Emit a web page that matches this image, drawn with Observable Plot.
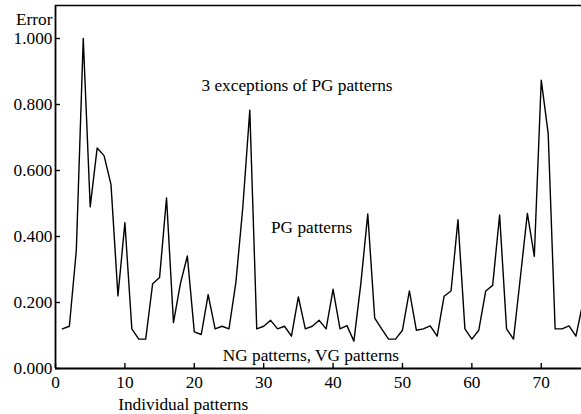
<!DOCTYPE html>
<html>
<head>
<meta charset="utf-8">
<script src="https://cdn.jsdelivr.net/npm/d3@7"></script>
<script src="https://cdn.jsdelivr.net/npm/@observablehq/plot@0.6"></script>
<style>
  html, body { margin: 0; padding: 0; background: #fff; }
  #chart { width: 581px; height: 414px; overflow: hidden; }
</style>
</head>
<body>
<div id="chart"></div>
<script>
const patterns = d3.range(1, 77);
const errors = [
  0.12, 0.128, 0.358, 1.0, 0.49, 0.668, 0.645, 0.557, 0.22, 0.442,
  0.12, 0.089, 0.089, 0.257, 0.276, 0.517, 0.139, 0.257, 0.341, 0.111,
  0.103, 0.224, 0.12, 0.128, 0.12, 0.262, 0.49, 0.783, 0.12, 0.128,
  0.146, 0.12, 0.128, 0.098, 0.217, 0.12, 0.128, 0.146, 0.12, 0.24,
  0.12, 0.13, 0.083, 0.257, 0.468, 0.153, 0.12, 0.089, 0.089, 0.116,
  0.235, 0.116, 0.12, 0.129, 0.098, 0.219, 0.235, 0.451, 0.12, 0.089,
  0.116, 0.235, 0.252, 0.465, 0.12, 0.089, 0.278, 0.47, 0.34, 0.874,
  0.712, 0.12, 0.12, 0.129, 0.098, 0.2
];
const xTicks = [0, 10, 20, 30, 40, 50, 60, 70];
const yTicks = [0, 0.2, 0.4, 0.6, 0.8, 1.0];
const xDomain = [0, 75.8];
const yDomain = [0, 1.1];

const annLabels = ["3 exceptions of PG patterns", "PG patterns", "NG patterns, VG patterns"];
const annX = [34.8, 36.9, 36.8];
const annY = [0.858, 0.426, 0.04];

const xTitle = "Individual patterns";
const yTitle = "Error";

const data = patterns.map((p, i) => ({x: p, y: errors[i]}));
const ann = annLabels.map((t, i) => ({t, x: annX[i], y: annY[i]}));

const W = 581, H = 414, mL = 55, mR = 0, mT = 5, mB = 46;
const plotH = H - mT - mB, plotW = W - mL - mR;
const FS = 17.3;

const chart = Plot.plot({
  width: W,
  height: H,
  marginLeft: mL,
  marginRight: mR,
  marginTop: mT,
  marginBottom: mB,
  style: {fontFamily: "Liberation Serif", fontSize: FS + "px", background: "#fff", color: "#000"},
  x: {domain: xDomain},
  y: {domain: yDomain},
  marks: [
    Plot.line(data, {x: "x", y: "y", stroke: "#000", strokeWidth: 1.4, clip: true}),
    Plot.ruleY([yDomain[0]], {stroke: "#000", strokeWidth: 2.2}),
    Plot.ruleY([yDomain[1]], {stroke: "#000", strokeWidth: 1.6}),
    Plot.ruleX([xDomain[0]], {stroke: "#000", strokeWidth: 1.8}),
    Plot.tickX(xTicks, {x: d => d, stroke: "#000", strokeWidth: 1.4, insetTop: plotH - 5}),
    Plot.tickY(yTicks, {y: d => d, stroke: "#000", strokeWidth: 1.4, insetRight: plotW - 5}),
    Plot.axisX(xTicks, {tickSize: 0, tickPadding: 7, label: null, fontSize: FS}),
    Plot.axisY(yTicks, {tickSize: 0, tickPadding: 3, label: null, tickFormat: d3.format(".3f"), fontSize: FS}),
    Plot.text(ann, {x: "x", y: "y", text: "t", fontSize: FS, fill: "#000"}),
    Plot.text([xTitle], {x: 18.4, y: -0.108, text: d => d, fontSize: FS, fill: "#000"}),
    Plot.text([yTitle], {x: 0, y: 1.058, text: d => d, textAnchor: "end", dx: -3, fontSize: FS, fill: "#000"})
  ]
});
document.getElementById("chart").appendChild(chart);
</script>
</body>
</html>
